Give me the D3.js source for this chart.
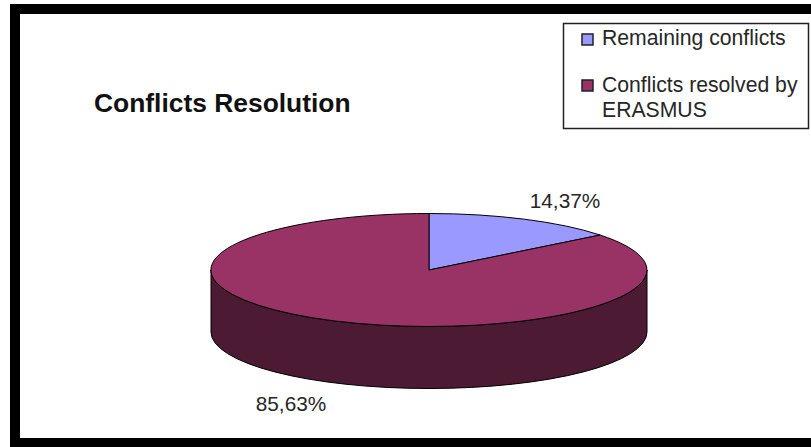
<!DOCTYPE html>
<html>
<head>
<meta charset="utf-8">
<script src="https://cdn.jsdelivr.net/npm/d3@7"></script>
<style>
html,body{margin:0;padding:0;background:#fff;}
svg{display:block;}
text{font-family:"Liberation Sans",Arial,sans-serif;fill:#262626;}
</style>
</head>
<body>
<svg id="chart" width="811" height="447"></svg>
<script>
const categories = ["Remaining conflicts", "Conflicts resolved by ERASMUS"];
const shares = [14.37, 85.63];
const shareLabels = ["14,37%", "85,63%"];
const titleText = "Conflicts Resolution";
const topColors = ["#9999ff", "#993366"];
const wallColors = ["#4d1a33", "#4d1a33"];

const svg = d3.select("#chart");
const W = 811, H = 447;

// Heavy black frame: top, left and bottom edges only
svg.append("rect").attr("x", 10).attr("y", 4).attr("width", W - 10).attr("height", H - 4).attr("fill", "#000");
svg.append("rect").attr("x", 20).attr("y", 14).attr("width", W - 20).attr("height", 424).attr("fill", "#fff");

// Tilted pie geometry
const cx = 429, cy = 270, rx = 218, ry = 56.5, depth = 62;
const pie = d3.pie().sort(null).value(d => d)(shares);

const sx = d3.scaleLinear().domain([-1, 1]).range([cx - rx, cx + rx]);
const sy = d3.scaleLinear().domain([-1, 1]).range([cy - ry, cy + ry]);
const px = a => sx(Math.sin(a));
const py = a => sy(-Math.cos(a));

// Outer wall of each slice, limited to the part of the rim facing the viewer
const wall = svg.append("g");
pie.forEach((s, i) => {
  const a0 = Math.max(s.startAngle, Math.PI / 2);
  const a1 = Math.min(s.endAngle, Math.PI * 1.5);
  if (a1 <= a0) return;
  const large = a1 - a0 > Math.PI ? 1 : 0;
  const d = `M${px(a0)},${py(a0)} L${px(a0)},${py(a0) + depth}` +
            ` A${rx},${ry} 0 ${large} 1 ${px(a1)},${py(a1) + depth}` +
            ` L${px(a1)},${py(a1)}` +
            ` A${rx},${ry} 0 ${large} 0 ${px(a0)},${py(a0)} Z`;
  wall.append("path").attr("d", d)
    .attr("fill", wallColors[i]).attr("stroke", "#000").attr("stroke-width", 1);
});

// Top face: unit-radius arcs squashed into the ellipse
const arc = d3.arc().innerRadius(0).outerRadius(1);
svg.append("g")
  .attr("transform", `translate(${cx},${cy}) scale(${rx},${ry})`)
  .selectAll("path").data(pie).join("path")
  .attr("d", arc)
  .attr("fill", (d, i) => topColors[i])
  .attr("stroke", "#000")
  .attr("stroke-width", 1)
  .attr("vector-effect", "non-scaling-stroke");

// Percentage labels
const labelPos = [[565, 208], [291, 411]];
svg.append("g").selectAll("text").data(shareLabels).join("text")
  .attr("x", (d, i) => labelPos[i][0])
  .attr("y", (d, i) => labelPos[i][1])
  .attr("text-anchor", "middle")
  .attr("font-size", 20.8)
  .text(d => d);

// Title
svg.append("text").attr("x", 94).attr("y", 112)
  .attr("font-size", 26.4).attr("font-weight", "bold").style("fill", "#111")
  .text(titleText);

// Legend
svg.append("rect").attr("x", 563.5).attr("y", 23.5).attr("width", 245).attr("height", 105)
  .attr("fill", "#fff").attr("stroke", "#222").attr("stroke-width", 1.5);
const swatchY = [34, 80];
const legend = svg.append("g");
categories.forEach((c, i) => {
  legend.append("rect").attr("x", 582).attr("y", swatchY[i]).attr("width", 11).attr("height", 11)
    .attr("fill", topColors[i]).attr("stroke", "#222").attr("stroke-width", 1.5);
});
const legendSize = 21.2;
legend.append("text").attr("x", 602).attr("y", 45).attr("font-size", legendSize).text(categories[0]);
const words = categories[1].split(" ");
legend.append("text").attr("x", 602).attr("y", 92).attr("font-size", legendSize).text(words.slice(0, 3).join(" "));
legend.append("text").attr("x", 602).attr("y", 117).attr("font-size", legendSize).text(words.slice(3).join(" "));
</script>
</body>
</html>
